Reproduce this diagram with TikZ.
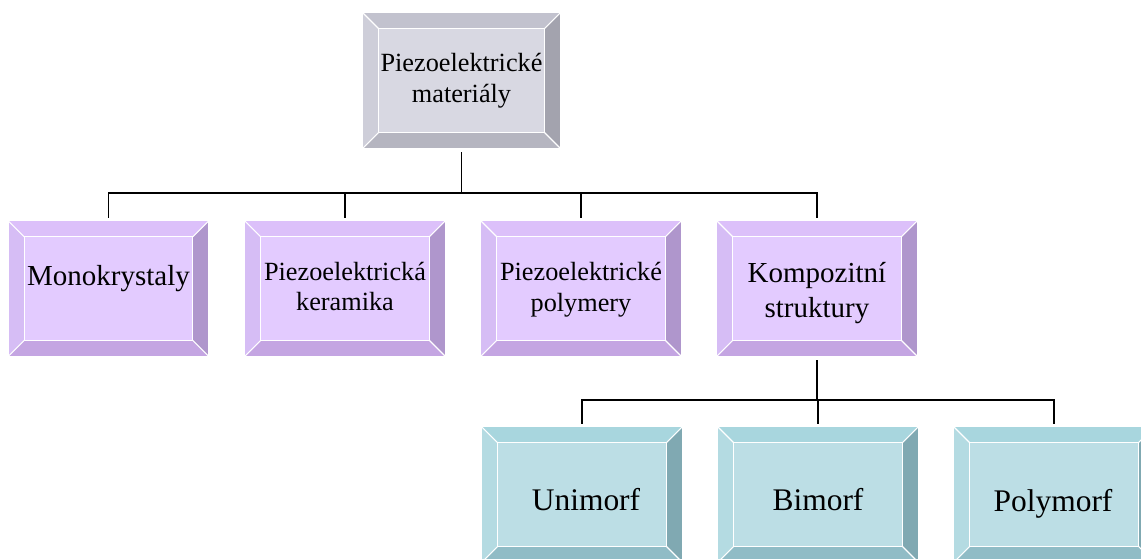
\documentclass[tikz,border=0pt]{standalone}
\usepackage{fontspec}
\setmainfont{Liberation Serif}
\newfontfamily\tnr{Liberation Serif}
\usetikzlibrary{calc}
\definecolor{gface}{HTML}{D8D8E2}\definecolor{gtop}{HTML}{C2C2CE}\definecolor{gleft}{HTML}{CECED9}\definecolor{gright}{HTML}{A3A3AE}\definecolor{gbot}{HTML}{B5B5C0}
\definecolor{pface}{HTML}{E3CBFF}\definecolor{ptop}{HTML}{DCC0FA}\definecolor{pleft}{HTML}{D6BDF5}\definecolor{pright}{HTML}{AF96CC}\definecolor{pbot}{HTML}{C4A5E2}
\definecolor{tface}{HTML}{BCDEE5}\definecolor{ttop}{HTML}{A8D6DE}\definecolor{tleft}{HTML}{B4DBE2}\definecolor{tright}{HTML}{80A9B2}\definecolor{tbot}{HTML}{90BCC6}
\tikzset{
  bevbox/.style={rectangle, inner sep=0pt, minimum width=150pt, minimum height=101.25pt},
  bevline/.style={draw=white, line width=0.8pt, line join=miter},
  conn/.style={draw=black, line width=1.4pt},
  lbl/.style={inner sep=0pt, align=center, text=black},
  small/.style={font=\tnr\fontsize{19.7}{23}\selectfont},
  mid/.style={font=\tnr\fontsize{21.75}{26.25}\selectfont},
  big/.style={font=\tnr\fontsize{23.6}{28}\selectfont},
}
\newcommand{\bevelbox}[8][150pt]{%
  \node[bevbox, minimum width=#1, fill=#4] (#2) at (#3) {};
  \coordinate (#2-a) at ($(#2.north west)+(16,16)$);
  \coordinate (#2-b) at ($(#2.north east)+(-16,16)$);
  \coordinate (#2-c) at ($(#2.south east)+(-16,-16)$);
  \coordinate (#2-d) at ($(#2.south west)+(16,-16)$);
  \fill[#5] (#2.north west) -- (#2.north east) -- (#2-b) -- (#2-a) -- cycle;
  \fill[#6] (#2.north west) -- (#2-a) -- (#2-d) -- (#2.south west) -- cycle;
  \fill[#7] (#2.north east) -- (#2.south east) -- (#2-c) -- (#2-b) -- cycle;
  \fill[#8] (#2.south west) -- (#2-d) -- (#2-c) -- (#2.south east) -- cycle;
  \draw[bevline] (#2.north west) rectangle (#2.south east);
  \draw[bevline] (#2-a) rectangle (#2-c);
  \draw[bevline] (#2.north west) -- (#2-a) (#2.north east) -- (#2-b)
                 (#2.south east) -- (#2-c) (#2.south west) -- (#2-d);
}
\begin{document}
\begin{tikzpicture}[x=0.75pt, y=-0.75pt]
\useasboundingbox (0,0) rectangle (1141,558);
\begin{scope}
\clip (0,0) rectangle (1141,558);
% boxes
\bevelbox[147.75pt]{top}{461.5,80.5}{gface}{gtop}{gleft}{gright}{gbot}
\bevelbox{mono}{108.5,288.5}{pface}{ptop}{pleft}{pright}{pbot}
\bevelbox{ker}{345,288.5}{pface}{ptop}{pleft}{pright}{pbot}
\bevelbox{pol}{581,288.5}{pface}{ptop}{pleft}{pright}{pbot}
\bevelbox{komp}{817,288.5}{pface}{ptop}{pleft}{pright}{pbot}
\bevelbox{uni}{582,494.5}{tface}{ttop}{tleft}{tright}{tbot}
\bevelbox{bi}{818,494.5}{tface}{ttop}{tleft}{tright}{tbot}
\bevelbox{poly}{1054,494.5}{tface}{ttop}{tleft}{tright}{tbot}

% labels
\node[lbl, small] (top-t) at (461.5,81) {Piezoelektrické\\materiály};
\node[lbl, mid, anchor=base] (mono-t) at (108.5,285) {Monokrystaly};
\node[lbl, small] (ker-t) at (345,286.5) {Piezoelektrická\\keramika};
\node[lbl, small] (pol-t) at (581,289.5) {Piezoelektrické\\polymery};
\node[lbl, mid] (komp-t) at (817,293) {Kompozitní\\struktury};
\node[lbl, big, anchor=base] (uni-t) at (586,510) {Unimorf};
\node[lbl, big, anchor=base] (bi-t) at (818,510) {Bimorf};
\node[lbl, big, anchor=base] (poly-t) at (1053,511) {Polymorf};

% connectors
\path (top.south) ++(0,45) coordinate (j1);
\draw[conn, shorten <=3pt] (top.south) -- (j1);
\draw[conn, shorten >=2pt] (j1) -| (mono.north);
\draw[conn, shorten >=2pt] (j1) -| (ker.north);
\draw[conn, shorten >=2pt] (j1) -| (pol.north);
\draw[conn, shorten >=2pt] (j1) -| (komp.north);
\path (komp.south) ++(0,44) coordinate (j2);
\draw[conn, shorten <=3pt] (komp.south) -- (j2);
\draw[conn, shorten >=2pt] (j2) -| (uni.north);
\draw[conn, shorten >=2pt] (j2) -| (bi.north);
\draw[conn, shorten >=2pt] (j2) -| (poly.north);
\end{scope}
\end{tikzpicture}
\end{document}
